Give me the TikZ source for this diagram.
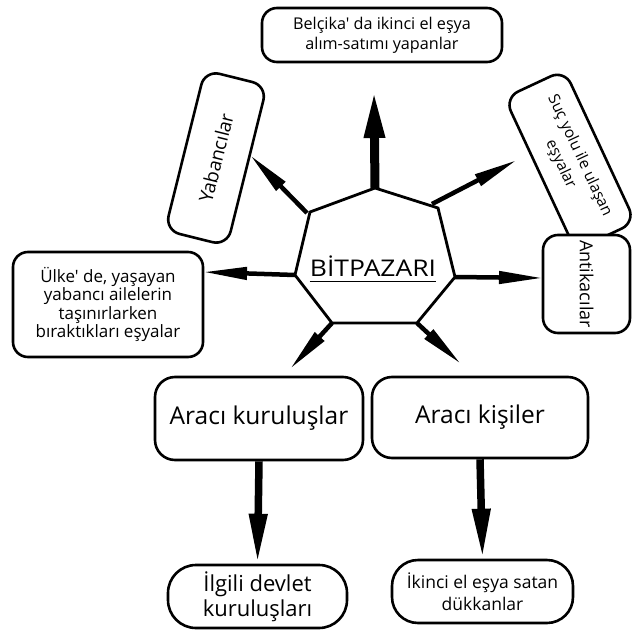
\documentclass[tikz,border=0pt]{standalone}
\usepackage{fontspec}
\setmainfont{Open Sans}[Ligatures=TeXOff]
\usetikzlibrary{arrows.meta}
\begin{document}
\begin{tikzpicture}[x=1pt,y=-1pt,
  box/.style={draw, line width=2.6pt, rounded corners=15pt, align=center,
    inner sep=0pt, fill=white},
  fs/.style 2 args={font=\fontsize{#1}{#2}\selectfont},
  spoke/.style={line width=4.5pt, -{Triangle[length=44pt,width=12pt]}},
  mainspoke/.style={line width=9pt, -{Triangle[length=48pt,width=19pt]}},
  drop/.style={line width=7.5pt, -{Triangle[length=50pt,width=17pt]}},
]
\useasboundingbox[fill=white] (0,0) rectangle (632,632);

% boxes around the hub
\node[box, fs={16.2}{20}, minimum width=240pt, minimum height=54pt] (top) at (382,35)
  {Belçika' da ikinci el eşya\\alım-satımı yapanlar};
\node[box, fs={19}{22}, rotate=76, minimum width=165pt, minimum height=64pt] (yab) at (216,158)
  {Yabancılar};
\node[box, fs={15.5}{21}, rotate=-65, minimum width=168pt, minimum height=66pt] (suc) at (570,160)
  {Suç yolu ile ulaşan\\eşyalar};
\node[box, fs={17}{18.5}, minimum width=190pt, minimum height=105pt] (ulke) at (108,304.5)
  {Ülke' de, yaşayan\\yabancı ailelerin\\taşınırlarken\\bıraktıkları eşyalar};
\node[box, fs={18}{21}, rotate=-90, minimum width=98pt, minimum height=87pt] (anti) at (586.5,284)
  {Antikacılar};
\node[box, fs={24.5}{28}, rounded corners=20pt, minimum width=208pt, minimum height=83pt] (ak) at (259,418.5)
  {Aracı kuruluşlar};
\node[box, fs={24.5}{28}, rounded corners=20pt, minimum width=216pt, minimum height=81pt] (aki) at (480,417.5)
  {Aracı kişiler};
\node[box, fs={22}{25}, rounded corners=28pt, minimum width=179pt, minimum height=63pt] (ilg) at (257.5,596.5)
  {İlgili devlet\\kuruluşları};
\node[box, fs={17.5}{22}, rounded corners=26pt, minimum width=181pt, minimum height=63pt] (ikinci) at (482.5,591.5)
  {İkinci el eşya satan\\dükkanlar};

% the hub: an irregular heptagon
\coordinate (h1) at (375,188);
\coordinate (h2) at (438,208);
\coordinate (h3) at (455,277);
\coordinate (h4) at (417,323);
\coordinate (h5) at (332,323);
\coordinate (h6) at (295,275);
\coordinate (h7) at (310,212);
\draw[line width=2.8pt, miter limit=10] (h1) -- (h2) -- (h3) -- (h4) -- (h5) -- (h6) -- (h7) -- cycle;
\node[fs={23}{26}, inner sep=0pt, xscale=1.15, transform shape] (hub) at (373,266) {BİTPAZARI};
\draw[line width=1.6pt] ([yshift=-5pt]hub.base west) -- ([yshift=-5pt]hub.base east);

% free ends of the spokes
\coordinate (tTop) at (374,90);
\coordinate (tUL) at (250,155);
\coordinate (tUR) at (517,160);
\coordinate (tL) at (203,272);
\coordinate (tR) at (543,278);
\coordinate (tLL) at (290,369);
\coordinate (tLR) at (461,364);
\coordinate (sUL) at (307,213);
\coordinate (sUR) at (432,204);

\draw[mainspoke] (h1) -- (tTop);
\draw[spoke] (sUL) -- (tUL);
\draw[spoke] (sUR) -- (tUR);
\draw[spoke] (h6) -- (tL);
\draw[spoke] (h3) -- (tR);
\draw[spoke] (h5) -- (tLL);
\draw[spoke] (h4) -- (tLR);
\draw[drop] (ak.south) -- (ilg.north);
\draw[drop] (aki.south) -- (ikinci.north);
\end{tikzpicture}
\end{document}
